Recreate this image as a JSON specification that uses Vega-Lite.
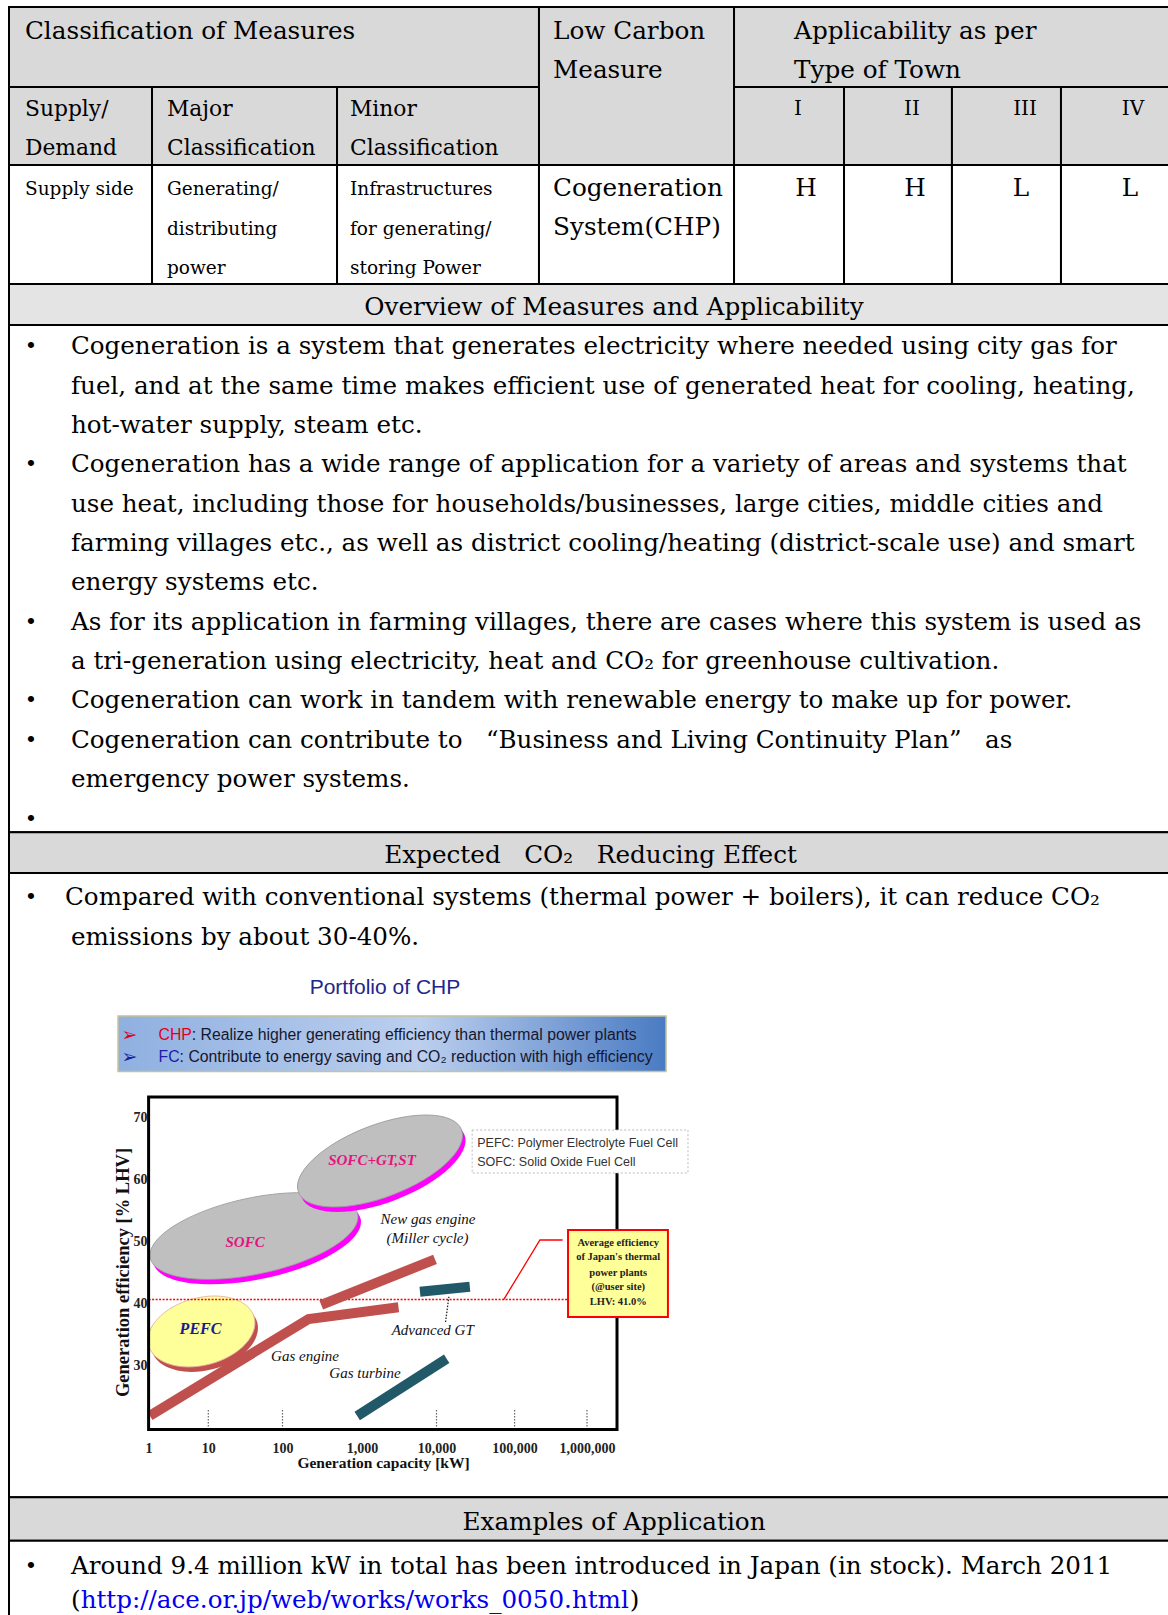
{
"$schema":"https://vega.github.io/schema/vega-lite/v6.json",
"width":1168,"height":1615,"padding":0,"autosize":{"type":"none"},
"background":"#ffffff",
"config":{"view":{"stroke":null}},
"datasets":{
"cells":[
{"cell":"Classification of Measures","from":0,"to":43.8,"top":-0.56,"bottom":1.474,"role":"header"},
{"cell":"Low Carbon Measure","from":43.8,"to":59.92,"top":-0.56,"bottom":3.456,"role":"header"},
{"cell":"Applicability as per Type of Town","from":59.92,"to":105,"top":-0.56,"bottom":1.474,"role":"header"},
{"cell":"Supply/Demand","from":0,"to":11.82,"top":1.474,"bottom":3.456,"role":"header"},
{"cell":"Major Classification","from":11.82,"to":27.11,"top":1.474,"bottom":3.456,"role":"header"},
{"cell":"Minor Classification","from":27.11,"to":43.8,"top":1.474,"bottom":3.456,"role":"header"},
{"cell":"I","from":59.92,"to":69.01,"top":1.474,"bottom":3.456,"role":"header"},
{"cell":"II","from":69.01,"to":77.93,"top":1.474,"bottom":3.456,"role":"header"},
{"cell":"III","from":77.93,"to":86.94,"top":1.474,"bottom":3.456,"role":"header"},
{"cell":"IV","from":86.94,"to":105,"top":1.474,"bottom":3.456,"role":"header"},
{"cell":"Supply side","from":0,"to":11.82,"top":3.456,"bottom":6.48,"role":"body"},
{"cell":"Generating/distributing power","from":11.82,"to":27.11,"top":3.456,"bottom":6.48,"role":"body"},
{"cell":"Infrastructures","from":27.11,"to":43.8,"top":3.456,"bottom":6.48,"role":"body"},
{"cell":"Cogeneration System(CHP)","from":43.8,"to":59.92,"top":3.456,"bottom":6.48,"role":"body"},
{"cell":"I value","from":59.92,"to":69.01,"top":3.456,"bottom":6.48,"role":"body"},
{"cell":"II value","from":69.01,"to":77.93,"top":3.456,"bottom":6.48,"role":"body"},
{"cell":"III value","from":77.93,"to":86.94,"top":3.456,"bottom":6.48,"role":"body"},
{"cell":"IV value","from":86.94,"to":105,"top":3.456,"bottom":6.48,"role":"body"},
{"cell":"Overview heading","from":0,"to":105,"top":6.48,"bottom":7.52,"role":"band"},
{"cell":"Overview","from":0,"to":105,"top":7.52,"bottom":20.41,"role":"body"},
{"cell":"Expected heading","from":0,"to":105,"top":20.41,"bottom":21.45,"role":"header"},
{"cell":"Expected","from":0,"to":105,"top":21.45,"bottom":37.31,"role":"body"},
{"cell":"Examples heading","from":0,"to":105,"top":37.31,"bottom":38.42,"role":"header"},
{"cell":"Examples","from":0,"to":105,"top":38.42,"bottom":42,"role":"body"}
],
"banner":[{"item":"key messages","from":9.01,"to":54.3,"top":25.08,"bottom":26.49}],
"texts":[
{"text":"Classification of Measures","pos":1.32,"line":0,"kind":"head"},
{"text":"Low Carbon","pos":44.96,"line":0,"kind":"head"},
{"text":"Measure","pos":44.96,"line":1,"kind":"head"},
{"text":"Applicability as per","pos":64.88,"line":0,"kind":"head"},
{"text":"Type of Town","pos":64.88,"line":1,"kind":"head"},
{"text":"Supply/","pos":1.32,"line":2,"kind":"subhead"},
{"text":"Demand","pos":1.32,"line":3,"kind":"subhead"},
{"text":"Major","pos":13.06,"line":2,"kind":"subhead"},
{"text":"Classification","pos":13.06,"line":3,"kind":"subhead"},
{"text":"Minor","pos":28.18,"line":2,"kind":"subhead"},
{"text":"Classification","pos":28.18,"line":3,"kind":"subhead"},
{"text":"Cogeneration","pos":44.96,"line":4,"kind":"head"},
{"text":"System(CHP)","pos":44.96,"line":5,"kind":"head"},
{"text":"Supply side","pos":1.32,"line":4,"kind":"detail"},
{"text":"Generating/","pos":13.06,"line":4,"kind":"detail"},
{"text":"distributing","pos":13.06,"line":5,"kind":"detail"},
{"text":"power","pos":13.06,"line":6,"kind":"detail"},
{"text":"Infrastructures","pos":28.18,"line":4,"kind":"detail"},
{"text":"for generating/","pos":28.18,"line":5,"kind":"detail"},
{"text":"storing Power","pos":28.18,"line":6,"kind":"detail"},
{"text":"I","pos":65.21,"line":2,"kind":"town"},
{"text":"II","pos":74.63,"line":2,"kind":"town"},
{"text":"III","pos":83.97,"line":2,"kind":"town"},
{"text":"IV","pos":92.89,"line":2,"kind":"town"},
{"text":"H","pos":65.87,"line":4,"kind":"rating"},
{"text":"H","pos":74.88,"line":4,"kind":"rating"},
{"text":"L","pos":83.64,"line":4,"kind":"rating"},
{"text":"L","pos":92.64,"line":4,"kind":"rating"},
{"text":"Overview of Measures and Applicability","pos":50,"line":7,"kind":"section"},
{"text":"Expected\u00a0\u00a0\u00a0CO\u2082\u00a0\u00a0\u00a0Reducing Effect","pos":48.06,"line":20.93,"kind":"section"},
{"text":"Examples of Application","pos":50,"line":37.87,"kind":"section"},
{"text":"\u2022","pos":1.82,"line":8,"kind":"bullet"},
{"text":"\u2022","pos":1.82,"line":11,"kind":"bullet"},
{"text":"\u2022","pos":1.82,"line":15,"kind":"bullet"},
{"text":"\u2022","pos":1.82,"line":17,"kind":"bullet"},
{"text":"\u2022","pos":1.82,"line":18,"kind":"bullet"},
{"text":"\u2022","pos":1.82,"line":20,"kind":"bullet"},
{"text":"\u2022","pos":1.82,"line":22,"kind":"bullet"},
{"text":"\u2022","pos":1.82,"line":39,"kind":"bullet"},
{"text":"Cogeneration is a system that generates electricity where needed using city gas for","pos":5.12,"line":8,"kind":"para"},
{"text":"fuel, and at the same time makes efficient use of generated heat for cooling, heating,","pos":5.12,"line":9,"kind":"para"},
{"text":"hot-water supply, steam etc.","pos":5.12,"line":10,"kind":"para"},
{"text":"Cogeneration has a wide range of application for a variety of areas and systems that","pos":5.12,"line":11,"kind":"para"},
{"text":"use heat, including those for households/businesses, large cities, middle cities and","pos":5.12,"line":12,"kind":"para"},
{"text":"farming villages etc., as well as district cooling/heating (district-scale use) and smart","pos":5.12,"line":13,"kind":"para"},
{"text":"energy systems etc.","pos":5.12,"line":14,"kind":"para"},
{"text":"As for its application in farming villages, there are cases where this system is used as","pos":5.12,"line":15,"kind":"para"},
{"text":"a tri-generation using electricity, heat and CO\u2082 for greenhouse cultivation.","pos":5.12,"line":16,"kind":"para"},
{"text":"Cogeneration can work in tandem with renewable energy to make up for power.","pos":5.12,"line":17,"kind":"para"},
{"text":"Cogeneration can contribute to \u00a0\u00a0\u201cBusiness and Living Continuity Plan\u201d\u00a0\u00a0 as","pos":5.12,"line":18,"kind":"para"},
{"text":"emergency power systems.","pos":5.12,"line":19,"kind":"para"},
{"text":"Compared with conventional systems (thermal power + boilers), it can reduce CO\u2082","pos":4.63,"line":22,"kind":"para"},
{"text":"emissions by about 30-40%.","pos":5.12,"line":23,"kind":"para"},
{"text":"Around 9.4 million kW in total has been introduced in Japan (in stock). March 2011","pos":5.12,"line":39,"kind":"para"},
{"text":"(","pos":5.12,"line":39.86,"kind":"para"},
{"text":"http://ace.or.jp/web/works/works_0050.html","pos":5.92,"line":39.86,"kind":"link"},
{"text":")","pos":51.3,"line":39.86,"kind":"para"},
{"text":"Portfolio of CHP","pos":31.07,"line":24.37,"kind":"title"},
{"text":": Realize higher generating efficiency than thermal power plants","pos":15.11,"line":25.57,"kind":"summary"},
{"text":": Contribute to energy saving and CO\u2082 reduction with high efficiency","pos":14.1,"line":26.12,"kind":"summary"},
{"text":"CHP","pos":12.36,"line":25.57,"kind":"key1"},
{"text":"\u27a2","pos":9.3,"line":25.57,"kind":"pointer1"},
{"text":"FC","pos":12.36,"line":26.12,"kind":"key2"},
{"text":"\u27a2","pos":9.3,"line":26.12,"kind":"pointer2"}
],
"frame":[{"kw_min":1,"kw_max":2511886,"eff_min":19.79,"eff_max":73.25}],
"ticks":[{"kw":10},{"kw":100},{"kw":10000},{"kw":100000},{"kw":1000000}],
"fuelcells":[{"tech":"SOFC","kw":41.3,"eff":50.9},{"tech":"SOFC+GT,ST","kw":1745,"eff":62.96},{"tech":"PEFC","kw":7.69,"eff":35.55}],
"curves":[
{"tech":"Gas engine","mover":"gas engine","kw":1.05,"eff":22.0},
{"tech":"Gas engine","mover":"gas engine","kw":213,"eff":37.56},
{"tech":"Gas engine","mover":"gas engine","kw":3090,"eff":39.44},
{"tech":"New gas engine (Miller cycle)","mover":"gas engine","kw":307,"eff":39.81},
{"tech":"New gas engine (Miller cycle)","mover":"gas engine","kw":9550,"eff":47.15},
{"tech":"Advanced GT","mover":"gas turbine","kw":6000,"eff":41.95},
{"tech":"Advanced GT","mover":"gas turbine","kw":26700,"eff":42.75},
{"tech":"Gas turbine","mover":"gas turbine","kw":871,"eff":21.96},
{"tech":"Gas turbine","mover":"gas turbine","kw":13500,"eff":31.16}
],
"thermal":[{"kw_from":1,"kw_to":547000,"eff":40.7}],
"callout":[{"step":1,"kw":72800,"eff":40.7},{"step":2,"kw":224000,"eff":50.26},{"step":3,"kw":461000,"eff":50.26}],
"connector":[{"step":1,"kw":14400,"eff":41.14},{"step":2,"kw":13000,"eff":36.91}],
"labels":[
{"text":"New gas engine","kw":7690,"eff":53.63,"kind":"curve"},
{"text":"(Miller cycle)","kw":7570,"eff":50.58,"kind":"curve"},
{"text":"Advanced GT","kw":8890,"eff":35.79,"kind":"curve"},
{"text":"Gas engine","kw":192,"eff":31.6,"kind":"curve"},
{"text":"Gas turbine","kw":1097,"eff":28.87,"kind":"curve"},
{"text":"SOFC","kw":31.3,"eff":49.89,"kind":"sofc"},
{"text":"SOFC+GT,ST","kw":1362,"eff":63.1,"kind":"sofc"},
{"text":"PEFC","kw":7.4,"eff":35.9,"kind":"pefc"}
],
"notes":[
{"note":"glossary","kw_from":28600,"kw_to":22200000,"eff_from":61.03,"eff_to":67.94},
{"note":"thermal average","kw_from":547000,"kw_to":12000000,"eff_from":37.88,"eff_to":51.86}
],
"glossary":[{"text":"PEFC: Polymer Electrolyte Fuel Cell","kw":33200,"eff":65.85},{"text":"SOFC: Solid Oxide Fuel Cell","kw":33200,"eff":62.8}],
"average":[
{"text":"Average efficiency","kw":2610000,"eff":49.82},
{"text":"of Japan's thermal","kw":2610000,"eff":47.57},
{"text":"power plants","kw":2610000,"eff":45.0},
{"text":"(@user site)","kw":2610000,"eff":42.65},
{"text":"LHV: 41.0%","kw":2610000,"eff":40.34}
]
},
"layer":[
{"layer":[
{"data":{"name":"cells"},"mark":{"type":"rect","stroke":"#000000","strokeWidth":2},
"encoding":{"x":{"field":"from","type":"quantitative","scale":{"domain":[0,100],"range":[9,1219],"nice":false,"zero":false},"axis":null},"x2":{"field":"to"},
"y":{"field":"top","type":"quantitative","scale":{"domain":[0,40],"range":[29,1603],"nice":false,"zero":false},"axis":null},"y2":{"field":"bottom"},
"fill":{"field":"role","type":"nominal","scale":{"domain":["header","body","band"],"range":["#d9d9d9","#ffffff","#e4e4e4"]},"legend":null}}},
{"data":{"name":"banner"},"mark":{"type":"rect","stroke":"#c4c49a","strokeWidth":1.5,"fill":{"gradient":"linear","x1":0,"y1":0,"x2":1,"y2":0,"stops":[{"offset":0,"color":"#8fb0e0"},{"offset":0.55,"color":"#bccfee"},{"offset":1,"color":"#4a7bc3"}]}},
"encoding":{"x":{"field":"from","type":"quantitative","scale":{"domain":[0,100],"range":[9,1219],"nice":false,"zero":false},"axis":null},"x2":{"field":"to"},
"y":{"field":"top","type":"quantitative","scale":{"domain":[0,40],"range":[29,1603],"nice":false,"zero":false},"axis":null},"y2":{"field":"bottom"}}},
{"data":{"name":"texts"},"transform":[{"filter":{"field":"kind","equal":"head"}}],"mark":{"type":"text","align":"left","baseline":"middle","dy":2.5,"font":"DejaVu Serif","fontSize":24.7,"fill":"#000000"},
"encoding":{"x":{"field":"pos","type":"quantitative","scale":{"domain":[0,100],"range":[9,1219],"nice":false,"zero":false},"axis":null},"y":{"field":"line","type":"quantitative","scale":{"domain":[0,40],"range":[29,1603],"nice":false,"zero":false},"axis":null},"text":{"field":"text"}}},
{"data":{"name":"texts"},"transform":[{"filter":{"field":"kind","equal":"subhead"}}],"mark":{"type":"text","align":"left","baseline":"middle","dy":1,"font":"DejaVu Serif","fontSize":21.8,"fill":"#000000"},
"encoding":{"x":{"field":"pos","type":"quantitative","scale":{"domain":[0,100],"range":[9,1219],"nice":false,"zero":false},"axis":null},"y":{"field":"line","type":"quantitative","scale":{"domain":[0,40],"range":[29,1603],"nice":false,"zero":false},"axis":null},"text":{"field":"text"}}},
{"data":{"name":"texts"},"transform":[{"filter":{"field":"kind","equal":"detail"}}],"mark":{"type":"text","align":"left","baseline":"middle","dy":3,"font":"DejaVu Serif","fontSize":18.5,"fill":"#000000"},
"encoding":{"x":{"field":"pos","type":"quantitative","scale":{"domain":[0,100],"range":[9,1219],"nice":false,"zero":false},"axis":null},"y":{"field":"line","type":"quantitative","scale":{"domain":[0,40],"range":[29,1603],"nice":false,"zero":false},"axis":null},"text":{"field":"text"}}},
{"data":{"name":"texts"},"transform":[{"filter":{"field":"kind","equal":"town"}}],"mark":{"type":"text","align":"center","baseline":"middle","dy":1,"font":"DejaVu Serif","fontSize":20,"fill":"#000000"},
"encoding":{"x":{"field":"pos","type":"quantitative","scale":{"domain":[0,100],"range":[9,1219],"nice":false,"zero":false},"axis":null},"y":{"field":"line","type":"quantitative","scale":{"domain":[0,40],"range":[29,1603],"nice":false,"zero":false},"axis":null},"text":{"field":"text"}}},
{"data":{"name":"texts"},"transform":[{"filter":{"field":"kind","equal":"rating"}}],"mark":{"type":"text","align":"center","baseline":"middle","dy":2.5,"font":"DejaVu Serif","fontSize":24.7,"fill":"#000000"},
"encoding":{"x":{"field":"pos","type":"quantitative","scale":{"domain":[0,100],"range":[9,1219],"nice":false,"zero":false},"axis":null},"y":{"field":"line","type":"quantitative","scale":{"domain":[0,40],"range":[29,1603],"nice":false,"zero":false},"axis":null},"text":{"field":"text"}}},
{"data":{"name":"texts"},"transform":[{"filter":{"field":"kind","equal":"section"}}],"mark":{"type":"text","align":"center","baseline":"middle","dy":3.5,"font":"DejaVu Serif","fontSize":24.7,"fill":"#000000"},
"encoding":{"x":{"field":"pos","type":"quantitative","scale":{"domain":[0,100],"range":[9,1219],"nice":false,"zero":false},"axis":null},"y":{"field":"line","type":"quantitative","scale":{"domain":[0,40],"range":[29,1603],"nice":false,"zero":false},"axis":null},"text":{"field":"text"}}},
{"data":{"name":"texts"},"transform":[{"filter":{"field":"kind","equal":"bullet"}}],"mark":{"type":"text","align":"center","baseline":"middle","dy":3.5,"font":"DejaVu Serif","fontSize":21,"fill":"#000000"},
"encoding":{"x":{"field":"pos","type":"quantitative","scale":{"domain":[0,100],"range":[9,1219],"nice":false,"zero":false},"axis":null},"y":{"field":"line","type":"quantitative","scale":{"domain":[0,40],"range":[29,1603],"nice":false,"zero":false},"axis":null},"text":{"field":"text"}}},
{"data":{"name":"texts"},"transform":[{"filter":{"field":"kind","equal":"para"}}],"mark":{"type":"text","align":"left","baseline":"middle","dy":3.5,"font":"DejaVu Serif","fontSize":24.6,"fill":"#000000"},
"encoding":{"x":{"field":"pos","type":"quantitative","scale":{"domain":[0,100],"range":[9,1219],"nice":false,"zero":false},"axis":null},"y":{"field":"line","type":"quantitative","scale":{"domain":[0,40],"range":[29,1603],"nice":false,"zero":false},"axis":null},"text":{"field":"text"}}},
{"data":{"name":"texts"},"transform":[{"filter":{"field":"kind","equal":"link"}}],"mark":{"type":"text","align":"left","baseline":"middle","dy":3.5,"font":"DejaVu Serif","fontSize":24.6,"fill":"#0000ee"},
"encoding":{"x":{"field":"pos","type":"quantitative","scale":{"domain":[0,100],"range":[9,1219],"nice":false,"zero":false},"axis":null},"y":{"field":"line","type":"quantitative","scale":{"domain":[0,40],"range":[29,1603],"nice":false,"zero":false},"axis":null},"text":{"field":"text"}}},
{"data":{"name":"texts"},"transform":[{"filter":{"field":"kind","equal":"title"}}],"mark":{"type":"text","align":"center","baseline":"middle","font":"Liberation Sans","fontSize":21,"fill":"#1f268c"},
"encoding":{"x":{"field":"pos","type":"quantitative","scale":{"domain":[0,100],"range":[9,1219],"nice":false,"zero":false},"axis":null},"y":{"field":"line","type":"quantitative","scale":{"domain":[0,40],"range":[29,1603],"nice":false,"zero":false},"axis":null},"text":{"field":"text"}}},
{"data":{"name":"texts"},"transform":[{"filter":{"field":"kind","equal":"summary"}}],"mark":{"type":"text","align":"left","baseline":"middle","font":"Liberation Sans","fontSize":15.8,"fill":"#16162c"},
"encoding":{"x":{"field":"pos","type":"quantitative","scale":{"domain":[0,100],"range":[9,1219],"nice":false,"zero":false},"axis":null},"y":{"field":"line","type":"quantitative","scale":{"domain":[0,40],"range":[29,1603],"nice":false,"zero":false},"axis":null},"text":{"field":"text"}}},
{"data":{"name":"texts"},"transform":[{"filter":{"field":"kind","equal":"key1"}}],"mark":{"type":"text","align":"left","baseline":"middle","font":"Liberation Sans","fontSize":15.8,"fill":"#e0001b"},
"encoding":{"x":{"field":"pos","type":"quantitative","scale":{"domain":[0,100],"range":[9,1219],"nice":false,"zero":false},"axis":null},"y":{"field":"line","type":"quantitative","scale":{"domain":[0,40],"range":[29,1603],"nice":false,"zero":false},"axis":null},"text":{"field":"text"}}},
{"data":{"name":"texts"},"transform":[{"filter":{"field":"kind","equal":"key2"}}],"mark":{"type":"text","align":"left","baseline":"middle","font":"Liberation Sans","fontSize":15.8,"fill":"#1c1ca8"},
"encoding":{"x":{"field":"pos","type":"quantitative","scale":{"domain":[0,100],"range":[9,1219],"nice":false,"zero":false},"axis":null},"y":{"field":"line","type":"quantitative","scale":{"domain":[0,40],"range":[29,1603],"nice":false,"zero":false},"axis":null},"text":{"field":"text"}}},
{"data":{"name":"texts"},"transform":[{"filter":{"field":"kind","equal":"pointer1"}}],"mark":{"type":"text","align":"left","baseline":"middle","font":"DejaVu Sans","fontSize":19,"fill":"#e0001b"},
"encoding":{"x":{"field":"pos","type":"quantitative","scale":{"domain":[0,100],"range":[9,1219],"nice":false,"zero":false},"axis":null},"y":{"field":"line","type":"quantitative","scale":{"domain":[0,40],"range":[29,1603],"nice":false,"zero":false},"axis":null},"text":{"field":"text"}}},
{"data":{"name":"texts"},"transform":[{"filter":{"field":"kind","equal":"pointer2"}}],"mark":{"type":"text","align":"left","baseline":"middle","font":"DejaVu Sans","fontSize":19,"fill":"#1c1ca8"},
"encoding":{"x":{"field":"pos","type":"quantitative","scale":{"domain":[0,100],"range":[9,1219],"nice":false,"zero":false},"axis":null},"y":{"field":"line","type":"quantitative","scale":{"domain":[0,40],"range":[29,1603],"nice":false,"zero":false},"axis":null},"text":{"field":"text"}}}
]},
{"layer":[
{"data":{"name":"ticks"},"mark":{"type":"rule","stroke":"#666666","strokeWidth":1.2,"strokeDash":[1.5,1.5]},
"encoding":{"x":{"field":"kw","type":"quantitative","scale":{"type":"log","domain":[1,10,100,1000,10000,100000,1000000,2511886],"range":[148.6,208.3,282.5,362,436.5,514.6,587,617],"nice":false}},"y":{"datum":19.79,"type":"quantitative","scale":{"type":"linear","domain":[19.79,73.25],"range":[1429.5,1097],"nice":false,"zero":false}},"y2":{"datum":23.0}}},
{"data":{"name":"fuelcells"},"transform":[{"filter":{"field":"tech","equal":"SOFC"}}],
"mark":{"type":"point","filled":true,"opacity":1,"fill":"#ff00ff","strokeWidth":0,"size":44944,"angle":348,"shape":"M -0.982 0.052 C -0.982 -0.1468 -0.5343 -0.308 0.018 -0.308 C 0.5703 -0.308 1.018 -0.1468 1.018 0.052 C 1.018 0.2508 0.5703 0.412 0.018 0.412 C -0.5343 0.412 -0.982 0.2508 -0.982 0.052 Z"},
"encoding":{"x":{"field":"kw","type":"quantitative"},"y":{"field":"eff","type":"quantitative"}}},
{"data":{"name":"fuelcells"},"transform":[{"filter":{"field":"tech","equal":"SOFC"}}],
"mark":{"type":"point","filled":true,"opacity":1,"fill":"#bfbfbf","stroke":"#9a9a9a","strokeWidth":0.8,"size":44944,"angle":348,"shape":"M -1 0 C -1 -0.1988 -0.5523 -0.36 0 -0.36 C 0.5523 -0.36 1 -0.1988 1 0 C 1 0.1988 0.5523 0.36 0 0.36 C -0.5523 0.36 -1 0.1988 -1 0 Z"},
"encoding":{"x":{"field":"kw","type":"quantitative"},"y":{"field":"eff","type":"quantitative"}}},
{"data":{"name":"fuelcells"},"transform":[{"filter":{"field":"tech","equal":"SOFC+GT,ST"}}],
"mark":{"type":"point","filled":true,"opacity":1,"fill":"#ff00ff","strokeWidth":0,"size":30485,"angle":339,"shape":"M -0.9884 0.0658 C -0.9884 -0.1626 -0.5407 -0.3477 0.0116 -0.3477 C 0.5639 -0.3477 1.0116 -0.1626 1.0116 0.0658 C 1.0116 0.2942 0.5639 0.4793 0.0116 0.4793 C -0.5407 0.4793 -0.9884 0.2942 -0.9884 0.0658 Z"},
"encoding":{"x":{"field":"kw","type":"quantitative"},"y":{"field":"eff","type":"quantitative"}}},
{"data":{"name":"fuelcells"},"transform":[{"filter":{"field":"tech","equal":"SOFC+GT,ST"}}],
"mark":{"type":"point","filled":true,"opacity":1,"fill":"#bfbfbf","stroke":"#9a9a9a","strokeWidth":0.8,"size":30485,"angle":339,"shape":"M -1 0 C -1 -0.2284 -0.5523 -0.4135 0 -0.4135 C 0.5523 -0.4135 1 -0.2284 1 0 C 1 0.2284 0.5523 0.4135 0 0.4135 C -0.5523 0.4135 -1 0.2284 -1 0 Z"},
"encoding":{"x":{"field":"kw","type":"quantitative"},"y":{"field":"eff","type":"quantitative"}}},
{"data":{"name":"fuelcells"},"transform":[{"filter":{"field":"tech","equal":"PEFC"}}],
"mark":{"type":"point","filled":true,"opacity":1,"fill":"#c0504d","strokeWidth":0,"size":11925,"angle":345,"shape":"M -0.9706 0.1027 C -0.9706 -0.2381 -0.5229 -0.5143 0.0294 -0.5143 C 0.5817 -0.5143 1.0294 -0.2381 1.0294 0.1027 C 1.0294 0.4435 0.5817 0.7197 0.0294 0.7197 C -0.5229 0.7197 -0.9706 0.4435 -0.9706 0.1027 Z"},
"encoding":{"x":{"field":"kw","type":"quantitative"},"y":{"field":"eff","type":"quantitative"}}},
{"data":{"name":"fuelcells"},"transform":[{"filter":{"field":"tech","equal":"PEFC"}}],
"mark":{"type":"point","filled":true,"opacity":1,"fill":"#ffff99","stroke":"#e0b0a0","strokeWidth":0.8,"size":11925,"angle":345,"shape":"M -1 0 C -1 -0.3408 -0.5523 -0.617 0 -0.617 C 0.5523 -0.617 1 -0.3408 1 0 C 1 0.3408 0.5523 0.617 0 0.617 C -0.5523 0.617 -1 0.3408 -1 0 Z"},
"encoding":{"x":{"field":"kw","type":"quantitative"},"y":{"field":"eff","type":"quantitative"}}},
{"data":{"name":"thermal"},"mark":{"type":"rule","stroke":"#ff0000","strokeWidth":1.6,"strokeDash":[2,1.5]},
"encoding":{"x":{"field":"kw_from","type":"quantitative"},"x2":{"field":"kw_to"},"y":{"field":"eff","type":"quantitative"}}},
{"data":{"name":"curves"},"mark":{"type":"line","strokeWidth":10,"strokeCap":"butt","strokeJoin":"miter"},
"encoding":{"x":{"field":"kw","type":"quantitative"},"y":{"field":"eff","type":"quantitative"},"detail":{"field":"tech","type":"nominal"},
"color":{"field":"mover","type":"nominal","scale":{"domain":["gas engine","gas turbine"],"range":["#c0504d","#215968"]},"legend":null}}},
{"data":{"name":"callout"},"mark":{"type":"line","stroke":"#ff0000","strokeWidth":1.3},
"encoding":{"x":{"field":"kw","type":"quantitative"},"y":{"field":"eff","type":"quantitative"},"order":{"field":"step","type":"quantitative"}}},
{"data":{"name":"connector"},"mark":{"type":"line","stroke":"#222222","strokeWidth":1.3,"strokeDash":[1.5,1.5]},
"encoding":{"x":{"field":"kw","type":"quantitative"},"y":{"field":"eff","type":"quantitative"},"order":{"field":"step","type":"quantitative"}}},
{"data":{"name":"labels"},"transform":[{"filter":{"field":"kind","equal":"curve"}}],"mark":{"type":"text","align":"center","baseline":"middle","font":"Liberation Serif","fontStyle":"italic","fontSize":15,"fill":"#111111"},
"encoding":{"x":{"field":"kw","type":"quantitative"},"y":{"field":"eff","type":"quantitative"},"text":{"field":"text"}}},
{"data":{"name":"labels"},"transform":[{"filter":{"field":"kind","equal":"sofc"}}],"mark":{"type":"text","align":"center","baseline":"middle","font":"Liberation Serif","fontStyle":"italic","fontWeight":"bold","fontSize":15,"fill":"#e4157f"},
"encoding":{"x":{"field":"kw","type":"quantitative"},"y":{"field":"eff","type":"quantitative"},"text":{"field":"text"}}},
{"data":{"name":"labels"},"transform":[{"filter":{"field":"kind","equal":"pefc"}}],"mark":{"type":"text","align":"center","baseline":"middle","font":"Liberation Serif","fontStyle":"italic","fontWeight":"bold","fontSize":16,"fill":"#1a1a8c"},
"encoding":{"x":{"field":"kw","type":"quantitative"},"y":{"field":"eff","type":"quantitative"},"text":{"field":"text"}}},
{"data":{"name":"frame"},"mark":{"type":"rect","fill":"#ffffff","fillOpacity":0,"stroke":"#000000","strokeWidth":3},
"encoding":{
"x":{"field":"kw_min","type":"quantitative","scale":{"type":"log","domain":[1,10,100,1000,10000,100000,1000000,2511886],"range":[148.6,208.3,282.5,362,436.5,514.6,587,617],"nice":false},
"axis":{"orient":"bottom","offset":-185.5,"zindex":1,"values":[1,10,100,1000,10000,100000,1000000],"format":",","domain":false,"ticks":false,"tickSize":0,"grid":false,"labelFont":"Liberation Serif","labelFontWeight":"bold","labelFontSize":14,"labelColor":"#222222","labelPadding":12,"labelFlush":false,"labelOverlap":false,"labelBound":false,
"title":"Generation capacity [kW]","titleFont":"Liberation Serif","titleFontWeight":"bold","titleFontSize":15.5,"titleColor":"#111111","titleX":383,"titleY":32.5,"titleAlign":"center","titleBaseline":"middle","titleAngle":0}},
"x2":{"field":"kw_max"},
"y":{"field":"eff_min","type":"quantitative","scale":{"type":"linear","domain":[19.79,73.25],"range":[1429.5,1097],"nice":false,"zero":false},
"axis":{"orient":"left","offset":-149,"zindex":1,"values":[30,40,50,60,70],"domain":false,"ticks":false,"tickSize":0,"grid":false,"labelFont":"Liberation Serif","labelFontWeight":"bold","labelFontSize":14,"labelColor":"#222222","labelPadding":2,"labelFlush":false,"labelOverlap":false,"labelBound":false,
"title":"Generation efficiency [% LHV]","titleFont":"Liberation Serif","titleFontWeight":"bold","titleFontSize":18.5,"titleColor":"#111111","titleX":-27,"titleY":1272,"titleAngle":-90,"titleAlign":"center","titleBaseline":"middle"}},
"y2":{"field":"eff_max"}}},
{"data":{"name":"notes"},"transform":[{"filter":{"field":"note","equal":"glossary"}}],"mark":{"type":"rect","fill":"#ffffff","stroke":"#bbbbbb","strokeWidth":1,"strokeDash":[2,2]},
"encoding":{"x":{"field":"kw_from","type":"quantitative"},"x2":{"field":"kw_to"},"y":{"field":"eff_from","type":"quantitative"},"y2":{"field":"eff_to"}}},
{"data":{"name":"glossary"},"mark":{"type":"text","align":"left","baseline":"middle","font":"Liberation Sans","fontSize":12.5,"fill":"#333333"},
"encoding":{"x":{"field":"kw","type":"quantitative"},"y":{"field":"eff","type":"quantitative"},"text":{"field":"text"}}},
{"data":{"name":"notes"},"transform":[{"filter":{"field":"note","equal":"thermal average"}}],"mark":{"type":"rect","fill":"#ffff99","stroke":"#ff0000","strokeWidth":2},
"encoding":{"x":{"field":"kw_from","type":"quantitative"},"x2":{"field":"kw_to"},"y":{"field":"eff_from","type":"quantitative"},"y2":{"field":"eff_to"}}},
{"data":{"name":"average"},"mark":{"type":"text","align":"center","baseline":"middle","font":"Liberation Serif","fontWeight":"bold","fontSize":10.5,"fill":"#222222"},
"encoding":{"x":{"field":"kw","type":"quantitative"},"y":{"field":"eff","type":"quantitative"},"text":{"field":"text"}}}
]}
],
"resolve":{"scale":{"x":"independent","y":"independent"},"axis":{"x":"independent","y":"independent"}}
}
